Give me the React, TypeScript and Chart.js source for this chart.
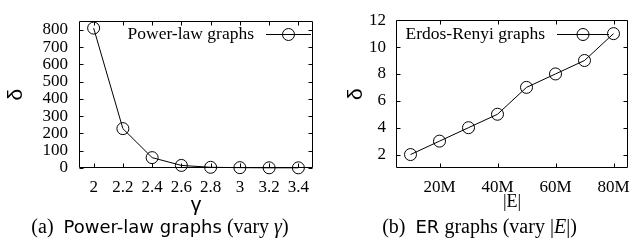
import React, { useEffect, useRef } from "react";
import { Chart, registerables } from "chart.js";

Chart.register(...registerables);

// ---- data: chart (a) ----
const gammaLabels = ["2", "2.2", "2.4", "2.6", "2.8", "3", "3.2", "3.4"];
const powerLawDelta = [810, 228, 60, 15, 4, 2, 1, 1];
const deltaTicksA = [0, 100, 200, 300, 400, 500, 600, 700, 800];

// ---- data: chart (b) ----
const edgeCountsM = [10, 20, 30, 40, 50, 60, 70, 80];
const erDelta = [2, 3, 4, 5, 7, 8, 9, 11];
const edgeTicksM = [20, 40, 60, 80];
const deltaTicksB = [2, 4, 6, 8, 10, 12];

const SERIF = "'Liberation Serif', 'Times New Roman', serif";
const SANS = "'Liberation Sans', Arial, sans-serif";
const CAP_SANS = "'DejaVu Sans', 'Liberation Sans', sans-serif";
const TICK_SIZE = 17;

const frameTicksPlugin = {
  id: "frameTicks",
  beforeDatasetsDraw(chart: any) {
    const { ctx, chartArea } = chart;
    const { left, right, top, bottom } = chartArea;
    const L = Math.round(left) + 0.5;
    const R = Math.round(right) - 0.5;
    const T = Math.round(top) + 0.5;
    const B = Math.round(bottom) - 0.5;
    ctx.save();
    ctx.strokeStyle = "#000";
    ctx.lineWidth = 1;
    ctx.beginPath();
    ctx.rect(L, T, R - L, B - T);
    const len = 4;
    const xs = chart.scales.x;
    xs.ticks.forEach((_: any, i: number) => {
      const p = Math.round(xs.getPixelForTick(i)) + 0.5;
      ctx.moveTo(p, B);
      ctx.lineTo(p, B - len);
      ctx.moveTo(p, T);
      ctx.lineTo(p, T + len);
    });
    const ys = chart.scales.y;
    ys.ticks.forEach((_: any, i: number) => {
      const p = Math.round(ys.getPixelForTick(i)) + 0.5;
      ctx.moveTo(L, p);
      ctx.lineTo(L + len, p);
      ctx.moveTo(R, p);
      ctx.lineTo(R - len, p);
    });
    ctx.stroke();
    ctx.restore();
  },
};

const keyPlugin = {
  id: "keyBox",
  afterDatasetsDraw(chart: any, _args: any, opts: any) {
    const { ctx, chartArea } = chart;
    const ds = chart.data.datasets[0];
    const y = Math.round(chartArea.top + opts.dy) + 0.5;
    const x2 = chartArea.right - opts.lineEndInset;
    const x1 = x2 - opts.lineLength;
    const textRight = x1 - opts.gap;
    ctx.save();
    ctx.fillStyle = "#000";
    ctx.font = opts.font;
    ctx.textAlign = "right";
    ctx.textBaseline = "middle";
    ctx.fillText(ds.label, textRight, y);
    ctx.strokeStyle = "#000";
    ctx.lineWidth = 1;
    ctx.beginPath();
    ctx.moveTo(x1, y);
    ctx.lineTo(x2, y);
    ctx.stroke();
    ctx.beginPath();
    ctx.arc((x1 + x2) / 2, y, ds.pointRadius, 0, Math.PI * 2);
    ctx.stroke();
    ctx.restore();
  },
};

function commonDataset(label: string, data: any[]) {
  return {
    label,
    data,
    borderColor: "#000",
    borderWidth: 1,
    pointRadius: 6,
    pointHoverRadius: 6,
    pointBorderWidth: 1,
    pointBorderColor: "#000",
    pointBackgroundColor: "rgba(0,0,0,0)",
    backgroundColor: "rgba(0,0,0,0)",
    tension: 0,
    fill: false,
    clip: false,
  };
}

function PowerLawChart() {
  const ref = useRef<HTMLCanvasElement>(null);
  useEffect(() => {
    const chart = new Chart(ref.current!, {
      type: "line",
      data: {
        labels: gammaLabels,
        datasets: [commonDataset("Power-law graphs", powerLawDelta) as any],
      },
      plugins: [frameTicksPlugin, keyPlugin],
      options: {
        responsive: false,
        animation: false,
        events: [],
        layout: { padding: { top: 15, right: 3, left: 0, bottom: 0 } },
        plugins: {
          legend: { display: false },
          tooltip: { enabled: false },
          keyBox: { dy: 13, lineEndInset: 2, lineLength: 45, gap: 12, font: `17.5px ${SERIF}` },
        } as any,
        scales: {
          x: {
            type: "category",
            offset: true,
            grid: { display: false, drawTicks: false },
            border: { display: false },
            ticks: { color: "#000", font: { family: SERIF, size: TICK_SIZE }, padding: 9, maxRotation: 0, autoSkip: false },
            title: { display: true, text: "γ", color: "#000", font: { family: SANS, size: 21 }, padding: { top: 0, bottom: 23 } },
            afterFit: (s: any) => { s.height = 73; },
          },
          y: {
            type: "linear",
            min: 0,
            max: 850,
            grid: { display: false, drawTicks: false },
            border: { display: false },
            ticks: { color: "#000", font: { family: SERIF, size: TICK_SIZE }, padding: 11, autoSkip: false },
            afterBuildTicks: (s: any) => { s.ticks = deltaTicksA.map((v) => ({ value: v })); },
            title: { display: true, text: "δ", color: "#000", font: { family: SANS, size: 21 }, padding: { top: 4, bottom: 0 } },
            afterFit: (s: any) => { s.width = 79; },
          },
        },
      } as any,
    });
    return () => chart.destroy();
  }, []);
  return <canvas ref={ref} width={320} height={241} style={{ display: "block" }} />;
}

function ERChart() {
  const ref = useRef<HTMLCanvasElement>(null);
  useEffect(() => {
    const points = edgeCountsM.map((x, i) => ({ x, y: erDelta[i] }));
    const chart = new Chart(ref.current!, {
      type: "line",
      data: {
        datasets: [commonDataset("Erdos-Renyi graphs", points) as any],
      },
      plugins: [frameTicksPlugin, keyPlugin],
      options: {
        responsive: false,
        animation: false,
        events: [],
        layout: { padding: { top: 15, right: 3, left: 0, bottom: 0 } },
        plugins: {
          legend: { display: false },
          tooltip: { enabled: false },
          keyBox: { dy: 14, lineEndInset: 19, lineLength: 52, gap: 12, font: `17.5px ${SERIF}` },
        } as any,
        scales: {
          x: {
            type: "linear",
            min: 5,
            max: 85,
            grid: { display: false, drawTicks: false },
            border: { display: false },
            ticks: {
              color: "#000",
              font: { family: SERIF, size: TICK_SIZE },
              padding: 9,
              maxRotation: 0,
              autoSkip: false,
              callback: (v: any) => `${v}M`,
            },
            afterBuildTicks: (s: any) => { s.ticks = edgeTicksM.map((v) => ({ value: v })); },
            title: { display: true, text: "|E|", color: "#000", font: { family: SERIF, size: 18 }, padding: { top: 0, bottom: 28 } },
            afterFit: (s: any) => { s.height = 73; },
          },
          y: {
            type: "linear",
            min: 1,
            max: 12,
            grid: { display: false, drawTicks: false },
            border: { display: false },
            ticks: { color: "#000", font: { family: SERIF, size: TICK_SIZE }, padding: 10, autoSkip: false },
            afterBuildTicks: (s: any) => { s.ticks = deltaTicksB.map((v) => ({ value: v })); },
            title: { display: true, text: "δ", color: "#000", font: { family: SANS, size: 21 }, padding: { top: 24, bottom: 0 } },
            afterFit: (s: any) => { s.width = 76; },
          },
        },
      } as any,
    });
    return () => chart.destroy();
  }, []);
  return <canvas ref={ref} width={319} height={241} style={{ display: "block" }} />;
}

export default function App() {
  const capStyle: React.CSSProperties = {
    position: "absolute",
    top: 214,
    width: 320,
    textAlign: "center",
    fontFamily: SERIF,
    fontSize: 20,
    lineHeight: "24px",
    whiteSpace: "pre",
    color: "#000",
  };
  return (
    <div style={{ position: "absolute", left: 0, top: 0, width: 639, height: 241, background: "#fff", overflow: "hidden" }}>
      <div style={{ position: "absolute", left: 0, top: 0 }}>
        <PowerLawChart />
      </div>
      <div style={{ position: "absolute", left: 320, top: 0 }}>
        <ERChart />
      </div>
      <div style={{ ...capStyle, left: 0 }}>
        {"(a)  "}
        <span style={{ fontFamily: CAP_SANS, fontSize: 18 }}>Power-law graphs</span>
        {" (vary "}
        <i>γ</i>
        {")"}
      </div>
      <div style={{ ...capStyle, left: 320, width: 319 }}>
        {"(b)  "}
        <span style={{ fontFamily: CAP_SANS, fontSize: 18 }}>ER</span>
        {" graphs (vary |"}
        <i>E</i>
        {"|)"}
      </div>
    </div>
  );
}
